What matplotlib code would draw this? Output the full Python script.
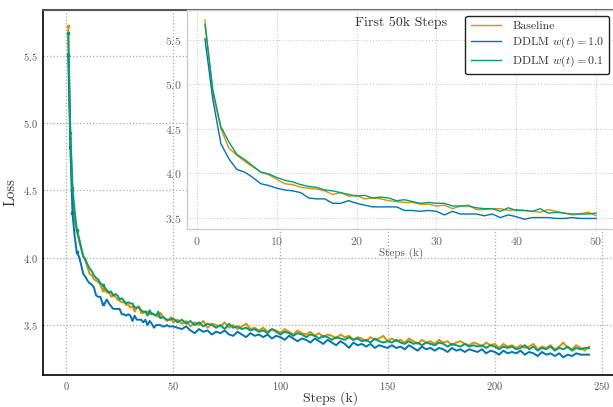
import matplotlib.pyplot as plt
import numpy as np

plt.rcParams['font.family'] = ['cmr10', 'DejaVu Serif']
plt.rcParams['mathtext.fontset'] = 'cm'
plt.rcParams['axes.formatter.use_mathtext'] = True

# steps (k), first 50k at 1k resolution
steps_early = list(range(1, 51))
baseline_early = [5.72, 4.89, 4.50, 4.28, 4.20, 4.13, 4.07, 4.01, 3.98, 3.93,
                  3.88, 3.87, 3.84, 3.83, 3.82, 3.80, 3.76, 3.78, 3.74, 3.75,
                  3.71, 3.72, 3.71, 3.69, 3.68, 3.67, 3.67, 3.65, 3.65, 3.63,
                  3.64, 3.60, 3.63, 3.64, 3.59, 3.59, 3.60, 3.60, 3.58, 3.59,
                  3.58, 3.57, 3.56, 3.59, 3.57, 3.55, 3.53, 3.54, 3.56, 3.52]
ddlm10_early = [5.51, 4.82, 4.33, 4.16, 4.04, 4.01, 3.95, 3.88, 3.86, 3.83,
                3.81, 3.80, 3.78, 3.72, 3.71, 3.71, 3.66, 3.66, 3.69, 3.66,
                3.64, 3.62, 3.62, 3.62, 3.62, 3.58, 3.58, 3.57, 3.58, 3.57,
                3.53, 3.57, 3.54, 3.54, 3.54, 3.52, 3.54, 3.50, 3.53, 3.51,
                3.48, 3.50, 3.50, 3.50, 3.49, 3.49, 3.50, 3.49, 3.49, 3.49]
ddlm01_early = [5.67, 4.93, 4.52, 4.35, 4.21, 4.15, 4.08, 4.01, 3.99, 3.95,
                3.92, 3.90, 3.87, 3.85, 3.84, 3.81, 3.80, 3.78, 3.76, 3.74,
                3.75, 3.72, 3.73, 3.72, 3.69, 3.70, 3.68, 3.66, 3.67, 3.66,
                3.66, 3.63, 3.63, 3.63, 3.61, 3.60, 3.60, 3.57, 3.61, 3.58,
                3.58, 3.57, 3.60, 3.55, 3.56, 3.55, 3.54, 3.54, 3.54, 3.55]

# rest of the run (52k - 244k, every 2k)
steps_late = list(range(52, 245, 2))
baseline_late = [3.54, 3.51, 3.53, 3.49, 3.52, 3.50, 3.53, 3.48, 3.51, 3.50,
                 3.49, 3.52, 3.48, 3.50, 3.47, 3.49, 3.51, 3.47, 3.48, 3.46,
                 3.48, 3.45, 3.47, 3.46, 3.44, 3.47, 3.45, 3.43, 3.46, 3.44,
                 3.43, 3.45, 3.42, 3.44, 3.41, 3.43, 3.42, 3.40, 3.43, 3.41,
                 3.42, 3.39, 3.41, 3.40, 3.38, 3.41, 3.39, 3.40, 3.42, 3.38,
                 3.40, 3.38, 3.39, 3.37, 3.40, 3.38, 3.36, 3.39, 3.37, 3.38,
                 3.36, 3.39, 3.37, 3.38, 3.35, 3.37, 3.38, 3.36, 3.35, 3.37,
                 3.36, 3.34, 3.37, 3.35, 3.36, 3.33, 3.36, 3.34, 3.35, 3.33,
                 3.35, 3.33, 3.34, 3.36, 3.32, 3.34, 3.33, 3.35, 3.32, 3.34,
                 3.37, 3.33, 3.32, 3.35, 3.33, 3.31, 3.34]
ddlm10_late = [3.48, 3.47, 3.49, 3.46, 3.44, 3.47, 3.45, 3.46, 3.43, 3.45,
               3.44, 3.46, 3.43, 3.42, 3.45, 3.43, 3.41, 3.44, 3.42, 3.43,
               3.41, 3.43, 3.40, 3.42, 3.41, 3.39, 3.42, 3.40, 3.38, 3.40,
               3.39, 3.37, 3.40, 3.38, 3.36, 3.39, 3.37, 3.35, 3.38, 3.36,
               3.33, 3.37, 3.35, 3.36, 3.34, 3.36, 3.33, 3.35, 3.34, 3.33,
               3.35, 3.33, 3.34, 3.32, 3.35, 3.33, 3.31, 3.34, 3.32, 3.33,
               3.31, 3.33, 3.32, 3.30, 3.33, 3.31, 3.32, 3.30, 3.32, 3.31,
               3.30, 3.32, 3.29, 3.31, 3.30, 3.28, 3.31, 3.29, 3.30, 3.29,
               3.31, 3.28, 3.30, 3.29, 3.27, 3.30, 3.28, 3.29, 3.27, 3.29,
               3.26, 3.28, 3.27, 3.29, 3.28, 3.28, 3.28]
ddlm01_late = [3.52, 3.54, 3.51, 3.53, 3.50, 3.52, 3.49, 3.51, 3.50, 3.48,
               3.50, 3.47, 3.51, 3.48, 3.49, 3.47, 3.48, 3.46, 3.47, 3.45,
               3.46, 3.44, 3.47, 3.45, 3.43, 3.45, 3.44, 3.42, 3.44, 3.43,
               3.41, 3.43, 3.42, 3.40, 3.42, 3.41, 3.39, 3.41, 3.40, 3.39,
               3.41, 3.39, 3.40, 3.38, 3.39, 3.37, 3.40, 3.38, 3.37, 3.38,
               3.37, 3.39, 3.37, 3.36, 3.38, 3.36, 3.37, 3.35, 3.37, 3.36,
               3.35, 3.37, 3.36, 3.34, 3.36, 3.35, 3.34, 3.36, 3.34, 3.35,
               3.34, 3.35, 3.33, 3.35, 3.34, 3.32, 3.34, 3.33, 3.34, 3.32,
               3.33, 3.35, 3.32, 3.34, 3.31, 3.33, 3.32, 3.34, 3.31, 3.33,
               3.32, 3.34, 3.31, 3.33, 3.32, 3.33, 3.33]

labels = ['Baseline', r'DDLM $w(t) = 1.0$', r'DDLM $w(t) = 0.1$']
colors = ['#DE8F05', '#0173B2', '#029E73']

steps_all = steps_early + steps_late
series_early = [baseline_early, ddlm10_early, ddlm01_early]
series_all = [baseline_early + baseline_late,
              ddlm10_early + ddlm10_late,
              ddlm01_early + ddlm01_late]

fig = plt.figure(figsize=(6.13, 4.07), dpi=100)
ax = fig.add_axes([0.070, 0.079, 0.94, 0.896])

for ys, c in zip(series_all, colors):
    ax.plot(steps_all, ys, color=c, lw=1.4, marker='s', ms=1.8,
            markevery=[0, 1, 2, 4, 16])

ax.set_xlim(-10.8, 258)
ax.set_ylim(3.13, 5.84)
ax.set_xticks([0, 50, 100, 150, 200, 250])
ax.set_yticks([3.5, 4.0, 4.5, 5.0, 5.5])
ax.grid(True, ls=':', color='#aaaaaa', lw=0.9)
ax.tick_params(labelsize=7.5, colors='#555555', length=0, pad=3.5)
ax.set_xlabel('Steps (k)', fontsize=10, color='#333333', labelpad=0)
ax.set_ylabel('Loss', fontsize=10.5, color='#333333', labelpad=4)
for side in ['left', 'bottom']:
    ax.spines[side].set_color('black')
    ax.spines[side].set_linewidth(1.2)
ax.spines['top'].set_color('#555555')
ax.spines['top'].set_linewidth(1.5)
ax.spines['right'].set_visible(False)

# inset with the first 50k steps
ins = fig.add_axes([0.305, 0.437, 0.70, 0.538])
ins.set_facecolor('white')
for ys, c, lab in zip(series_early, colors, labels):
    ins.plot(steps_early, ys, color=c, lw=1.0, label=lab)
ins.set_xlim(-1.25, 52.5)
ins.set_ylim(3.37, 5.83)
ins.set_xticks([0, 10, 20, 30, 40, 50])
ins.set_yticks([3.5, 4.0, 4.5, 5.0, 5.5])
ins.grid(True, ls=':', color='#cccccc', lw=0.8)
ins.tick_params(labelsize=8.5, colors='#666666', length=0, pad=4)
ins.set_xlabel('Steps (k)', fontsize=8, color='#555555', labelpad=1)
for s in ins.spines.values():
    s.set_color('#cccccc')
    s.set_linewidth(1.0)
ins.text(0.5, 0.97, 'First 50k Steps', transform=ins.transAxes,
         ha='center', va='top', fontsize=10, color='#333333')
leg = ins.legend(loc='upper right', fontsize=8.5, frameon=True,
                 bbox_to_anchor=(0.99, 0.985), borderaxespad=0.2,
                 handlelength=2.6, labelspacing=0.3, handletextpad=0.9,
                 borderpad=0.45)
leg.get_frame().set_edgecolor('#222222')
leg.get_frame().set_linewidth(1.0)
leg.get_frame().set_alpha(1)
for t in leg.get_texts():
    t.set_color('#333333')

fig.savefig('out.png', dpi=100)
